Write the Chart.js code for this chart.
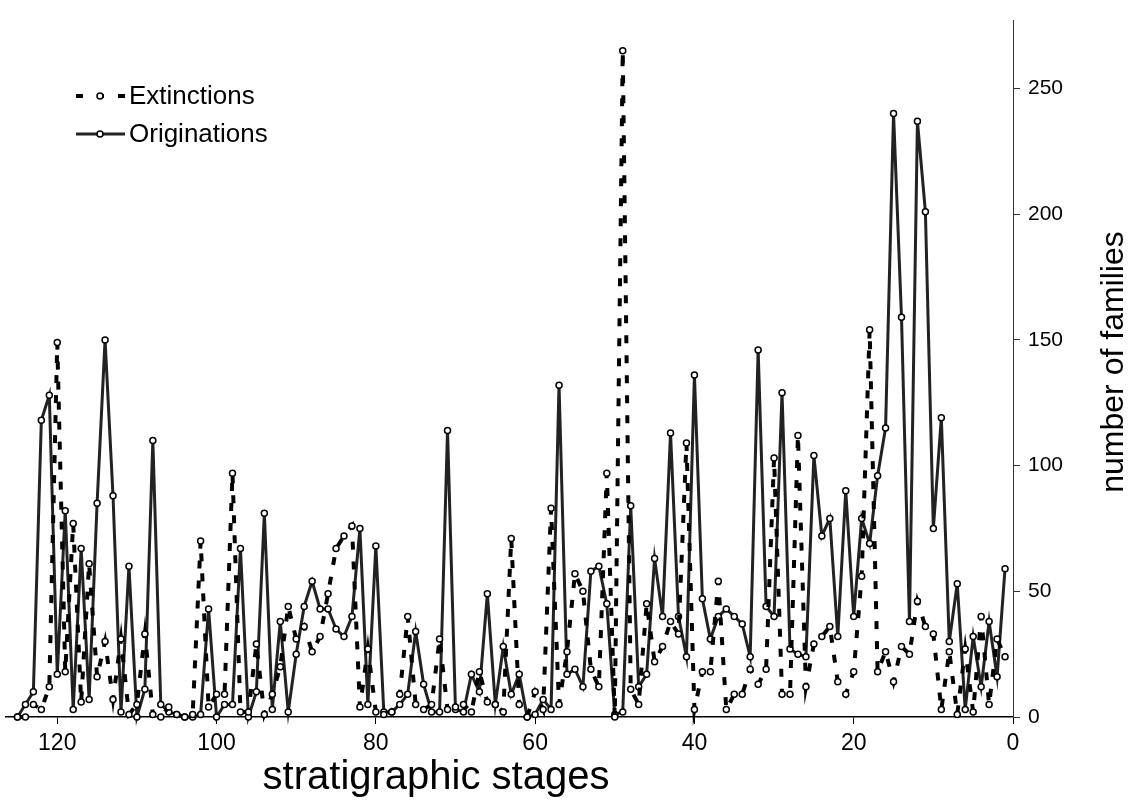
<!DOCTYPE html>
<html>
<head>
<meta charset="utf-8">
<script src="https://cdn.jsdelivr.net/npm/chart.js@4.4.0/dist/chart.umd.min.js"></script>
<style>
  html, body { margin: 0; padding: 0; background: #fff; }
  #wrap { width: 1132px; height: 801px; }
</style>
</head>
<body>
<div id="wrap"><canvas id="chart" width="1132" height="801"></canvas></div>
<script>
// stratigraphic stage numbers, oldest (left) to youngest (right)
const stages = [125,124,123,122,121,120,119,118,117,116,115,114,113,112,111,110,109,108,107,106,
  105,104,103,102,101,100,99,98,97,96,95,94,93,92,91,90,89,88,87,86,
  85,84,83,82,81,80,79,78,77,76,75,74,73,72,71,70,69,68,67,66,
  65,64,63,62,61,60,59,58,57,56,55,54,53,52,51,50,49,48,47,46,
  45,44,43,42,41,40,39,38,37,36,35,34,33,32,31,30,29,28,27,26,
  25,24,23,22,21,20,19,18,17,16,15,14,13,12,11,10,9,8,7,6,
  5,4,3,2,1];

const extinctions = [0,0,5,3,12,149,18,77,6,61,16,30,7,31,1,5,33,1,0,4,
  1,0,1,70,4,9,9,97,2,2,29,1,9,20,44,31,36,26,32,49,
  67,72,76,4,27,2,1,2,9,40,5,3,5,31,3,4,5,2,18,6,
  5,2,71,5,0,10,3,83,5,26,57,50,19,12,97,0,265,11,5,45,
  22,28,38,33,109,3,18,18,54,3,9,9,19,13,19,103,9,9,112,12,
  29,32,36,14,9,18,56,154,18,26,14,28,25,46,36,33,3,26,1,27,
  2,40,5,31,24];

const originations = [0,5,10,118,128,17,82,3,67,7,85,150,88,2,60,0,11,110,5,2,
  1,0,0,1,43,0,5,5,67,0,10,81,3,38,2,25,44,54,43,43,
  35,32,40,75,5,68,2,2,5,9,34,13,2,2,114,3,2,17,10,49,
  5,28,9,17,0,1,7,3,132,17,19,12,58,60,45,1,2,84,12,17,
  63,40,113,40,24,136,47,31,40,43,40,37,24,146,44,40,129,27,25,24,
  104,72,79,32,90,40,79,69,96,115,240,159,38,237,201,75,119,30,53,3,
  32,12,38,16,59];

const xTicks = [120, 100, 80, 60, 40, 20, 0];
const yTicks = [0, 50, 100, 150, 200, 250];

const FONT = 'Arial, "Liberation Sans", sans-serif';

const pairs = vals => stages.map((s, i) => ({ x: s, y: vals[i] }));

// legend in the upper left corner and the two axis titles
const annotations = {
  id: 'annotations',
  afterDraw(chart) {
    const ctx = chart.ctx;
    ctx.save();
    const rows = [
      { ds: chart.data.datasets[0], y: 96, dash: [7, 14] },
      { ds: chart.data.datasets[1], y: 134, dash: [] }
    ];
    rows.forEach(r => {
      ctx.strokeStyle = r.ds.borderColor;
      ctx.lineWidth = r.ds.borderWidth;
      ctx.setLineDash(r.dash);
      ctx.beginPath();
      ctx.moveTo(76, r.y);
      ctx.lineTo(125, r.y);
      ctx.stroke();
      ctx.setLineDash([]);
      ctx.beginPath();
      ctx.arc(100, r.y, 3, 0, Math.PI * 2);
      ctx.fillStyle = '#fff';
      ctx.fill();
      ctx.lineWidth = 1.5;
      ctx.strokeStyle = '#000';
      ctx.stroke();
      ctx.fillStyle = '#000';
      ctx.font = '26px ' + FONT;
      ctx.textAlign = 'left';
      ctx.textBaseline = 'middle';
      ctx.fillText(r.ds.label, 129, r.y + 1);
    });

    ctx.textAlign = 'center';
    ctx.textBaseline = 'alphabetic';
    ctx.font = '40px ' + FONT;
    ctx.fillText('stratigraphic stages', 436, 789);

    ctx.font = '32px ' + FONT;
    ctx.translate(1123, 362);
    ctx.rotate(-Math.PI / 2);
    ctx.fillText('number of families', 0, 0);
    ctx.restore();
  }
};

new Chart(document.getElementById('chart'), {
  type: 'line',
  data: {
    datasets: [
      {
        label: 'Extinctions',
        data: pairs(extinctions),
        borderColor: '#000',
        borderWidth: 4,
        borderDash: [8, 12],
        pointRadius: 3,
        pointBorderWidth: 1.5,
        pointBackgroundColor: '#fff',
        pointBorderColor: '#000',
        tension: 0,
        clip: false
      },
      {
        label: 'Originations',
        data: pairs(originations),
        borderColor: '#222',
        borderWidth: 3,
        pointRadius: 3,
        pointBorderWidth: 1.5,
        pointBackgroundColor: '#fff',
        pointBorderColor: '#000',
        tension: 0,
        clip: false
      }
    ]
  },
  options: {
    responsive: false,
    animation: false,
    devicePixelRatio: 1,
    layout: { padding: { top: 18, left: 0, right: 0, bottom: 0 } },
    plugins: {
      legend: { display: false },
      tooltip: { enabled: false }
    },
    scales: {
      x: {
        type: 'linear',
        reverse: true,
        min: 0,
        max: 126.5,
        afterBuildTicks: s => { s.ticks = xTicks.map(v => ({ value: v })); },
        afterFit: s => { s.height = 84; },
        ticks: { font: { size: 23, family: FONT }, color: '#000', padding: 6, maxRotation: 0, autoSkip: false },
        grid: { drawOnChartArea: false, drawTicks: true, tickLength: 7, color: '#000', lineWidth: 1 },
        border: { display: true, color: '#000', width: 1.5 }
      },
      y: {
        position: 'right',
        min: 0,
        max: 277,
        afterBuildTicks: s => { s.ticks = yTicks.map(v => ({ value: v })); },
        afterFit: s => { s.width = 119; },
        ticks: { font: { size: 21, family: FONT }, color: '#000', padding: 8 },
        grid: { drawOnChartArea: false, drawTicks: true, tickLength: 7, color: '#333', lineWidth: 1 },
        border: { display: true, color: '#333', width: 1 }
      }
    }
  },
  plugins: [annotations]
});
</script>
</body>
</html>
